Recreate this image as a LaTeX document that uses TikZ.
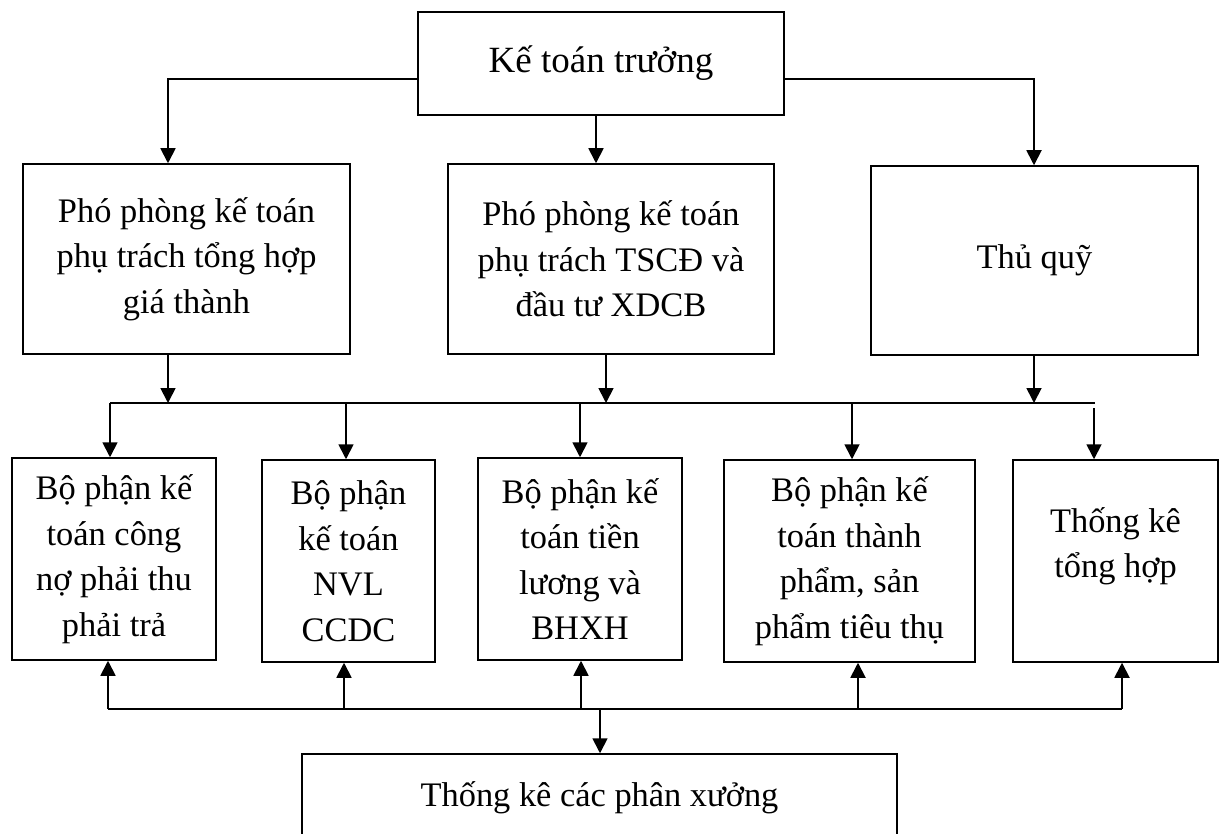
\documentclass[tikz,border=0pt]{standalone}
\usepackage{fontspec}
\setmainfont{Liberation Serif}
\usetikzlibrary{arrows.meta}

\tikzset{
  box/.style={draw, line width=1.5pt, inner sep=0pt, align=center,
    font=\fontsize{34.4}{45.5}\selectfont},
  label/.style={inner sep=0pt, align=center,
    font=\fontsize{34.4}{45.5}\selectfont},
  link/.style={line width=1.8pt},
  conn/.style={link, -{Triangle[length=15pt,width=15pt]}}
}

\begin{document}
\begin{tikzpicture}[x=1pt, y=-1pt]
\useasboundingbox (0,0) rectangle (1220,834);
\clip (0,0) rectangle (1220,834);

% head of the accounting department
\node[box, minimum width=366pt, minimum height=103pt,
      font=\fontsize{37}{45.5}\selectfont] (top) at (601,63.5) {Kế toán trưởng};

% deputies and cashier
\node[box, minimum width=327pt, minimum height=190pt] (pl) at (186.5,259)
  {Phó phòng kế toán\\phụ trách tổng hợp\\giá thành};
\node[box, minimum width=326pt, minimum height=190pt] (pm) at (611,259)
  {Phó phòng kế toán\\phụ trách TSCĐ và\\đầu tư XDCB};
\node[box, minimum width=327pt, minimum height=189pt] (pr) at (1034.5,260.5)
  {Thủ quỹ};

% accounting sections
\node[box, minimum width=204pt, minimum height=202pt] (b1) at (114,559)
  {Bộ phận kế\\toán công\\nợ phải thu\\phải trả};
\node[box, minimum width=173pt, minimum height=202pt] (b2) at (348.5,561)
  {Bộ phận\\kế toán\\NVL\\CCDC};
\node[box, minimum width=204pt, minimum height=202pt] (b3) at (580,559)
  {Bộ phận kế\\toán tiền\\lương và\\BHXH};
\node[box, minimum width=251pt, minimum height=202pt] (b4) at (849.5,561)
  {Bộ phận kế\\toán thành\\phẩm, sản\\phẩm tiêu thụ};
\node[box, minimum width=205pt, minimum height=202pt] (b5) at (1115.5,561) {};
\node[label] (b5t) at (1115.5,546.5) {Thống kê\\tổng hợp};

% workshop statistics
\node[box, minimum width=595pt, minimum height=88pt] (bot) at (599.5,798)
  {Thống kê các phân xưởng};

% from the head down
\draw[conn] (top.west |- 0,79) -| (168,0 |- pl.north);
\draw[conn] (top.east |- 0,79) -| (1034,0 |- pr.north);
\draw[conn] (596,0 |- top.south) -- (596,0 |- pm.north);

% upper distribution bus
\coordinate (ul) at (110,403);
\coordinate (ur) at (1095,403);
\draw[link] (ul) -- (ur);
\draw[conn] (168,0 |- pl.south) -- (168,0 |- ul);
\draw[conn] (606,0 |- pm.south) -- (606,0 |- ul);
\draw[conn] (1034,0 |- pr.south) -- (1034,0 |- ul);
\draw[conn] (ul) -- (ul |- b1.north);
\draw[conn] (346,0 |- ul) -- (346,0 |- b2.north);
\draw[conn] (580,0 |- ul) -- (580,0 |- b3.north);
\draw[conn] (852,0 |- ul) -- (852,0 |- b4.north);
\draw[conn] (1094,408) -- (1094,0 |- b5.north);

% lower collection bus
\coordinate (ll) at (108,709);
\coordinate (lr) at (1122,709);
\draw[link] (ll) -- (lr);
\draw[conn] (ll) -- (ll |- b1.south);
\draw[conn] (344,0 |- ll) -- (344,0 |- b2.south);
\draw[conn] (581,0 |- ll) -- (581,0 |- b3.south);
\draw[conn] (858,0 |- ll) -- (858,0 |- b4.south);
\draw[conn] (lr) -- (lr |- b5.south);
\draw[conn] (600,0 |- ll) -- (600,0 |- bot.north);
\end{tikzpicture}
\end{document}
